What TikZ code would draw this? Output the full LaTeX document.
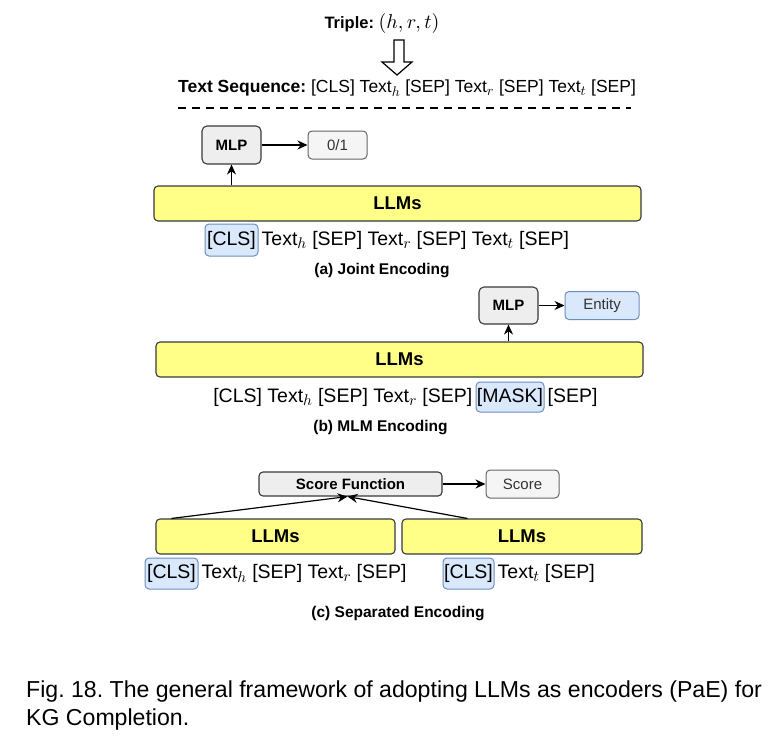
\documentclass[tikz,border=0pt]{standalone}
\usepackage{fontspec}
\setmainfont{Liberation Sans}
\DeclareFontShape{OML}{cmm}{m}{it}{<->cmmi10}{}
\DeclareFontShape{OT1}{cmr}{m}{n}{<->cmr10}{}
\DeclareMathSizes{19.5}{19.5}{15.5}{11}
\DeclareMathSizes{17.5}{17.5}{14}{10}
\DeclareMathSizes{20}{20}{15}{11}
\usetikzlibrary{arrows.meta,calc}
\definecolor{llmyel}{HTML}{FFFF88}
\definecolor{darkline}{HTML}{36393D}
\definecolor{mlpgray}{HTML}{EEEEEE}
\definecolor{outgray}{HTML}{F5F5F5}
\definecolor{outline}{HTML}{666666}
\definecolor{bluefill}{HTML}{DAE8FC}
\definecolor{blueline}{HTML}{6C8EBF}
\frenchspacing
\begin{document}
\begin{tikzpicture}[x=1pt,y=-1pt,
  seqfont/.style={font=\fontsize{19.5}{22}\selectfont},
  seqtxt/.style={seqfont, inner sep=0pt},
  llmbox/.style={draw=darkline, fill=llmyel, rounded corners=4pt, line width=1.1pt,
    font=\fontsize{18.5}{21}\selectfont\bfseries, inner sep=0pt, minimum height=35pt},
  mlpbox/.style={draw=darkline, fill=mlpgray, rounded corners=5pt, line width=1.1pt,
    font=\fontsize{15}{17}\selectfont\bfseries, inner sep=0pt, minimum width=59pt},
  outbox/.style={draw=outline, fill=outgray, rounded corners=4pt, line width=1pt,
    font=\fontsize{15}{17}\selectfont, text=black!80, inner sep=0pt, minimum height=28pt},
  entbox/.style={draw=blueline, fill=bluefill, rounded corners=4pt, line width=1pt,
    font=\fontsize{15}{17}\selectfont, text=black!80, inner sep=0pt, minimum height=28pt},
  tokbox/.style={draw=blueline, fill=bluefill, rounded corners=4pt, line width=1pt,
    seqfont, inner sep=0pt},
  subcap/.style={font=\fontsize{15.5}{18}\selectfont\bfseries, inner sep=0pt},
  conn/.style={line width=1.2pt, -{Stealth[length=10pt,width=9pt]}},
]
\useasboundingbox (0,0) rectangle (781,741);

% ---------- top ----------
\node[inner sep=0pt] (triple) at (382,24)
  {\fontsize{16.5}{19}\selectfont\bfseries Triple: {\fontsize{20}{22}\selectfont\mdseries$(h,r,t)$}};
\draw[line width=1.2pt, fill=white] (394,40) -- (404,40) -- (404,62) -- (412,62) -- (397,75)
  -- (382,62) -- (394,62) -- cycle;
\node[inner sep=0pt, anchor=west, font=\fontsize{17.5}{20}\selectfont] (seq) at (178,88)
  {\textbf{Text Sequence:} [CLS] Text$_h$ [SEP] Text$_r$ [SEP] Text$_t$ [SEP]};
\draw[line width=1.5pt, dash pattern=on 8pt off 6pt] (178,108) -- (631,108);

% ---------- (a) ----------
\node[llmbox, minimum width=487pt] (llmA) at (397.5,203.5) {LLMs};
\node[mlpbox, minimum height=38pt] (mlpA) at (231.5,145) {MLP};
\node[outbox, minimum width=59pt] (outA) at (337.5,145) {0/1};
\draw[conn] (mlpA) -- (outA);
\draw[conn] (llmA.north -| mlpA) -- (mlpA.south);
\node[tokbox, minimum width=53pt, minimum height=32pt] (clsA) at (231.5,240) {[CLS]};
\node[seqtxt, anchor=base west] (restA) at ($(clsA.base east)+(3,0)$)
  {Text$_h$ [SEP] Text$_r$ [SEP] Text$_t$ [SEP]};
\node[subcap] (capA) at (382,271) {(a) Joint Encoding};

% ---------- (b) ----------
\node[llmbox, minimum width=487pt] (llmB) at (399.5,359.5) {LLMs};
\node[mlpbox, minimum height=37pt] (mlpB) at (508.5,305.5) {MLP};
\node[entbox, minimum width=74pt] (entB) at (602,305.5) {Entity};
\draw[conn] (mlpB) -- (entB);
\draw[conn] (llmB.north -| mlpB) -- (mlpB.south);
\node[tokbox, minimum width=68pt, minimum height=30pt] (maskB) at (510,397) {[MASK]};
\node[seqtxt, anchor=base east] (leftB) at ($(maskB.base west)+(-3,0)$)
  {[CLS] Text$_h$ [SEP] Text$_r$ [SEP]};
\node[seqtxt, anchor=base west] (rightB) at ($(maskB.base east)+(3,0)$) {[SEP]};
\node[subcap] (capB) at (380.5,428) {(b) MLM Encoding};

% ---------- (c) ----------
\node[mlpbox, minimum width=183pt, minimum height=24pt, rounded corners=4pt] (sf) at (350.5,484) {Score Function};
\node[outbox, minimum width=73pt] (score) at (522.5,484) {Score};
\draw[conn] (sf) -- (score);
\node[llmbox, minimum width=239pt] (llmL) at (275.5,536.5) {LLMs};
\node[llmbox, minimum width=240pt] (llmR) at (522,536.5) {LLMs};
\coordinate (startL) at ($(llmL.north west)+(16,0)$);
\coordinate (startR) at ($(llmR.north west)+(66,0)$);
\coordinate (sfin) at ($(sf.south)+(-3,0)$);
\draw[conn] (startL) -- (sfin);
\draw[conn] (startR) -- (sfin);
\node[tokbox, minimum width=53pt, minimum height=31pt] (clsL) at (171.5,573.5) {[CLS]};
\node[seqtxt, anchor=base west] (restL) at ($(clsL.base east)+(3,0)$)
  {Text$_h$ [SEP] Text$_r$ [SEP]};
\node[tokbox, minimum width=51pt, minimum height=31pt] (clsR) at (468.5,573.5) {[CLS]};
\node[seqtxt, anchor=base west] (restR) at ($(clsR.base east)+(3,0)$)
  {Text$_t$ [SEP]};
\node[subcap] (capC) at (398,614) {(c) Separated Encoding};

% ---------- caption ----------
\node[inner sep=0pt, anchor=base west, font=\fontsize{23.1}{27}\selectfont] (cap1) at (26,697)
  {Fig. 18. The general framework of adopting LLMs as encoders (PaE) for};
\node[inner sep=0pt, anchor=base west, font=\fontsize{23.1}{27}\selectfont] (cap2) at (26,725)
  {KG Completion.};
\end{tikzpicture}
\end{document}
